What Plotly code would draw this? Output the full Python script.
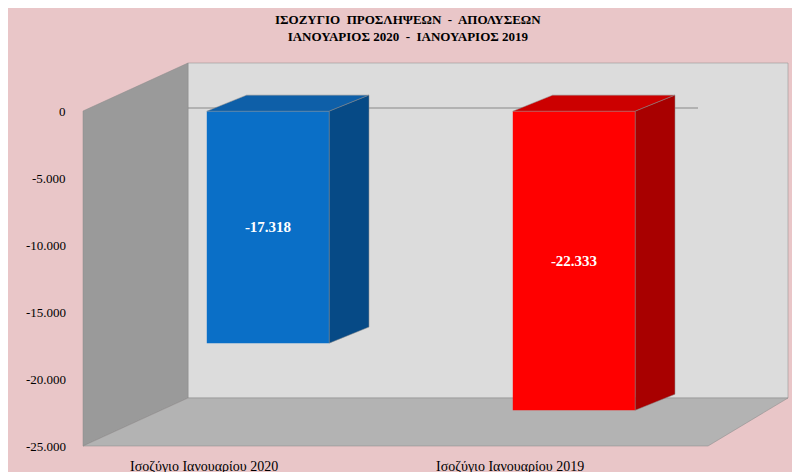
import plotly.graph_objects as go

categories = ["Ισοζύγιο Ιανουαρίου 2020", "Ισοζύγιο Ιανουαρίου 2019"]
values = [-17318, -22333]
labels = ["<b>-17.318</b>", "<b>-22.333</b>"]
front_colors = ["#0a6fc7", "#ff0000"]
side_colors = ["#064a86", "#a80000"]
top_colors = ["#0e5fa8", "#cc0000"]
tick_vals = [0, -5000, -10000, -15000, -20000, -25000]
tick_text = ["0", "-5.000", "-10.000", "-15.000", "-20.000", "-25.000"]

W, H = 800, 472
L, R, T, B = 107, 81, 55, 34
pw, ph = W - L - R, H - T - B
ymin, ymax = -25000, 3600

def px(x): return (x - L) / pw
def py(y): return (H - B - y) / ph

fig = go.Figure()
fig.add_bar(x=[0, 1], y=values, marker_color=front_colors, width=0.4,
            text=labels, textposition="inside", insidetextanchor="middle",
            textfont=dict(color="white", size=15, family="Liberation Serif"),
            marker_line_width=0, cliponaxis=False)

def poly(pts, color, ref="paper"):
    p = "M " + " L ".join(f"{a},{b}" for a, b in pts) + " Z"
    return dict(type="path", path=p, fillcolor=color, line=dict(width=0.5, color="#888"),
                xref=ref if ref == "paper" else "x", yref=ref if ref == "paper" else "y",
                layer="below" if ref == "paper" else "above")

shapes = []
shapes.append(poly([(px(180), py(390)), (px(780), py(390)), (px(780), py(55)), (px(180), py(55))], "#dcdcdc"))
shapes.append(poly([(px(75), py(438)), (px(180), py(390)), (px(180), py(55)), (px(75), py(103))], "#9a9a9a"))
shapes.append(poly([(px(75), py(438)), (px(700), py(438)), (px(780), py(390)), (px(180), py(390))], "#b3b3b3"))
shapes.append(dict(type="line", xref="paper", yref="paper", x0=px(180), x1=px(690), y0=py(100), y1=py(100),
                   line=dict(color="#888", width=1), layer="below"))
dx, dy = 0.13, 1200
for i, v in enumerate(values):
    x0, x1 = i - 0.2, i + 0.2
    shapes.append(poly([(x0, 0), (x0 + dx, dy), (x1 + dx, dy), (x1, 0)], top_colors[i], ref="data"))
    shapes.append(poly([(x1, 0), (x1 + dx, dy), (x1 + dx, v + dy), (x1, v)], side_colors[i], ref="data"))

annotations = [dict(text="<b>ΙΣΟΖΥΓΙΟ  ΠΡΟΣΛΗΨΕΩΝ  -  ΑΠΟΛΥΣΕΩΝ<br>ΙΑΝΟΥΑΡΙΟΣ 2020  -  ΙΑΝΟΥΑΡΙΟΣ 2019</b>",
                    xref="paper", yref="paper", x=px(400), y=py(2), xanchor="center", yanchor="top",
                    showarrow=False, font=dict(size=13, family="Liberation Serif"))]
for v, t in zip(tick_vals, tick_text):
    annotations.append(dict(text=t, xref="paper", yref="y", x=px(60), y=v, xanchor="right",
                            yanchor="middle", showarrow=False, font=dict(size=13)))
for i, c in enumerate(categories):
    annotations.append(dict(text=c, xref="x", yref="paper", x=i - 0.21, y=py(458), xanchor="center",
                            yanchor="middle", showarrow=False, font=dict(size=14)))

fig.update_layout(
    width=W, height=H, margin=dict(l=L, r=R, t=T, b=B, autoexpand=False),
    paper_bgcolor="#e9c6c8", plot_bgcolor="rgba(0,0,0,0)",
    shapes=shapes, showlegend=False, annotations=annotations,
    font=dict(family="Liberation Serif", color="black"),
    xaxis=dict(range=[-0.5, 1.5], showticklabels=False, showgrid=False, zeroline=False,
               ticks="", automargin=False),
    yaxis=dict(range=[ymin, ymax], showticklabels=False, showgrid=False, zeroline=False,
               ticks="", automargin=False),
)
fig.write_html("out.html")
